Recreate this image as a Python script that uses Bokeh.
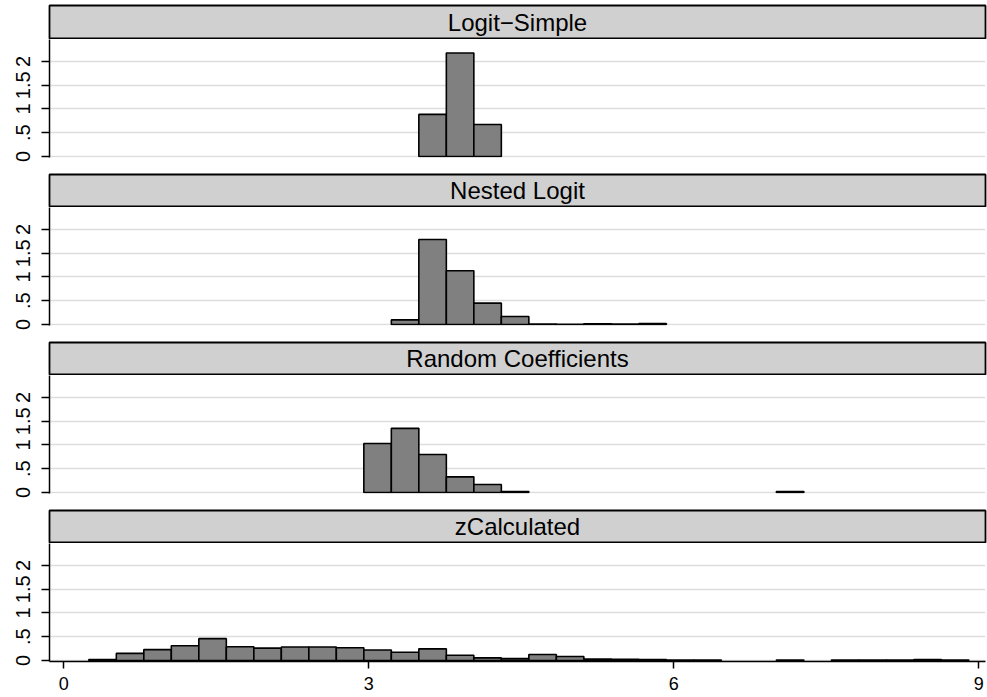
from bokeh.plotting import figure
from bokeh.layouts import column
from bokeh.models import Range1d, FixedTicker, Label, ColumnDataSource
from bokeh.embed import file_html
from bokeh.resources import INLINE

# Histogram bins shared by every panel (density scale)
bin_start = 0.246
bin_width = 0.2705

titles = ["Logit\u2212Simple", "Nested Logit", "Random Coefficients", "zCalculated"]

logit_simple_first_bin = 12
logit_simple = [0.886, 2.18, 0.675]

nested_logit_first_bin = 11
nested_logit = [0.097, 1.79, 1.13, 0.45, 0.17, 0.01, 0.005, 0.015, 0.01, 0.02]

random_coef_first_bin = 10
random_coef = [1.03, 1.35, 0.80, 0.33, 0.17, 0.02,
               0, 0, 0, 0, 0, 0, 0, 0, 0,
               0.02]

zcalc_first_bin = 0
zcalc = [0.02, 0.15, 0.23, 0.31, 0.46, 0.29, 0.26, 0.285, 0.285, 0.27,
         0.22, 0.175, 0.245, 0.11, 0.055, 0.04, 0.125, 0.085, 0.03, 0.025,
         0.02, 0.01, 0.01, 0, 0, 0.01, 0, 0.01, 0.01, 0.01,
         0.02, 0.01]

y_ticks = [0, 0.5, 1, 1.5, 2]
y_tick_labels = ["0", ".5", "1", "1.5", "2"]
x_ticks = [0, 3, 6, 9]

series = [
    (logit_simple_first_bin, logit_simple),
    (nested_logit_first_bin, nested_logit),
    (random_coef_first_bin, random_coef),
    (zcalc_first_bin, zcalc),
]

FONT = "Liberation Sans"
W = 987
LEFT = 49
RIGHT = 2
x_range = Range1d(-0.1407, 9.0655)


def bars_source(first_bin, values):
    left, right, top = [], [], []
    for i, v in enumerate(values):
        if v <= 0:
            continue
        k = first_bin + i
        left.append(bin_start + k * bin_width)
        right.append(bin_start + (k + 1) * bin_width)
        top.append(v)
    return ColumnDataSource(dict(left=left, right=right, top=top, bottom=[0] * len(top)))


def header(title, top_pad, frame_h):
    h = figure(width=W, height=frame_h + top_pad + 1, x_range=x_range, y_range=Range1d(0, 1),
               output_backend="svg", toolbar_location=None,
               x_axis_location=None, y_axis_location=None,
               min_border_left=LEFT, min_border_right=RIGHT,
               min_border_top=top_pad, min_border_bottom=1)
    h.grid.visible = False
    h.background_fill_color = "#d0d0d0"
    h.outline_line_color = "black"
    h.outline_line_width = 1.8
    h.border_fill_color = "white"
    h.add_layout(Label(x=(x_range.start + x_range.end) / 2, y=0.5, text=title,
                       text_align="center", text_baseline="middle",
                       text_font=FONT, text_font_size="24px", text_color="black"))
    return h


def panel(first_bin, values, last):
    bottom_pad = 36 if last else 16
    p = figure(width=W, height=118 + bottom_pad, x_range=x_range,
               y_range=Range1d(-0.021, 2.463),
               output_backend="svg", toolbar_location=None,
               x_axis_location="below" if last else None,
               min_border_left=LEFT, min_border_right=RIGHT,
               min_border_top=0, min_border_bottom=bottom_pad)
    p.outline_line_color = None
    p.background_fill_color = "white"
    p.border_fill_color = "white"
    p.xgrid.visible = False
    p.ygrid.ticker = FixedTicker(ticks=y_ticks)
    p.ygrid.grid_line_color = "#dddddd"
    p.ygrid.grid_line_width = 1.5

    yax = p.yaxis[0]
    yax.ticker = FixedTicker(ticks=y_ticks)
    yax.major_label_overrides = {float(t): s for t, s in zip(y_ticks, y_tick_labels)}
    yax.major_label_orientation = "vertical"
    yax.major_label_text_font = FONT
    yax.major_label_text_font_size = "20px"
    yax.major_label_text_color = "black"
    yax.major_label_standoff = 11
    yax.major_tick_out = 8
    yax.major_tick_in = 0
    yax.minor_tick_line_color = None
    yax.axis_line_color = "black"
    yax.axis_line_width = 1.5
    yax.major_tick_line_width = 1.5

    if last:
        xax = p.xaxis[0]
        xax.ticker = FixedTicker(ticks=x_ticks)
        xax.major_label_text_font = FONT
        xax.major_label_text_font_size = "18px"
        xax.major_label_text_color = "black"
        xax.major_label_standoff = 8
        xax.major_tick_out = 7
        xax.major_tick_in = 0
        xax.minor_tick_line_color = None
        xax.axis_line_color = "black"
        xax.axis_line_width = 1.5
        xax.major_tick_line_width = 1.5

    p.quad(left="left", right="right", top="top", bottom="bottom",
           source=bars_source(first_bin, values),
           fill_color="#808080", line_color="black", line_width=1.6)
    return p


children = []
for idx, (title, (first_bin, values)) in enumerate(zip(titles, series)):
    if idx == 0:
        children.append(header(title, 5, 33))
    else:
        children.append(header(title, 1, 32))
    children.append(panel(first_bin, values, idx == len(series) - 1))

layout = column(children, spacing=0)

open("out.html", "w").write(file_html(layout, INLINE))
